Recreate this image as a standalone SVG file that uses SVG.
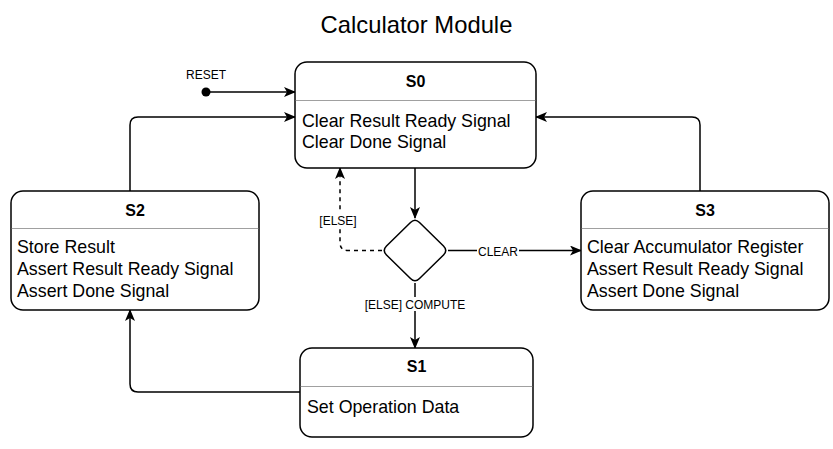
<svg xmlns="http://www.w3.org/2000/svg" width="833" height="449" viewBox="0 0 833 449">
<style>
.box{fill:#fff;stroke:#000;stroke-width:1.5}
.div{stroke:#a0a0a0;stroke-width:1}
.t{font-family:"Liberation Sans",Arial,Helvetica,sans-serif;fill:#000}
.title{font-size:16px;font-weight:bold;text-anchor:middle}
.body{font-size:17.8px}
.lbl{font-size:12px;text-anchor:middle}
.lb{fill:#fff}
.c{fill:none;stroke:#000;stroke-width:1.5}
</style>
<defs>
<marker id="arr" markerUnits="userSpaceOnUse" viewBox="0 0 12 10" refX="11" refY="5" markerWidth="12" markerHeight="10" orient="auto">
<path d="M0,0 L12,5 L0,10 L3,5 Z" fill="#000"/>
</marker>
</defs>
<rect width="833" height="449" fill="#fff"/>
<text class="t" x="416.5" y="33" font-size="23.8" text-anchor="middle">Calculator Module</text>

<g id="connectors">
<circle cx="206" cy="92" r="4.5" fill="#000"/>
<path class="c" d="M206,92 L295,92" marker-end="url(#arr)"/>
<path class="c" d="M130,191 L130,125 Q130,117 138,117 L295,117" marker-end="url(#arr)"/>
<path class="c" d="M700,191 L700,125 Q700,117 692,117 L536,117" marker-end="url(#arr)"/>
<path class="c" d="M415,168 L415,218" marker-end="url(#arr)"/>
<path class="c" d="M382,250.5 L348,250.5 Q340,250.5 340,242.5 L340,168" stroke-dasharray="4 4" marker-end="url(#arr)"/>
<path class="c" d="M448,250.5 L581,250.5" marker-end="url(#arr)"/>
<path class="c" d="M415,283 L415,348" marker-end="url(#arr)"/>
<path class="c" d="M300,392 L138,392 Q130,392 130,384 L130,310" marker-end="url(#arr)"/>
<text class="t lbl" x="206" y="79">RESET</text>
<rect class="lb" x="316" y="213" width="46" height="14"/>
<text class="t lbl" x="338" y="225">[ELSE]</text>
<rect class="lb" x="477" y="244" width="42" height="14"/>
<text class="t lbl" x="498" y="255.5">CLEAR</text>
<rect class="lb" x="365" y="297" width="100" height="14"/>
<text class="t lbl" x="415" y="308.5">[ELSE] COMPUTE</text>
</g>

<g id="S0">
<rect class="box" x="295" y="62" width="241" height="106" rx="12"/>
<line class="div" x1="295.75" y1="100.5" x2="535.25" y2="100.5"/>
<text class="t title" x="415.5" y="87">S0</text>
<text class="t body" x="302" y="127">Clear Result Ready Signal</text>
<text class="t body" x="302" y="148">Clear Done Signal</text>
</g>

<g id="S2">
<rect class="box" x="11" y="191" width="248" height="119" rx="12"/>
<line class="div" x1="11.75" y1="228.5" x2="258.25" y2="228.5"/>
<text class="t title" x="135" y="216">S2</text>
<text class="t body" x="17" y="253">Store Result</text>
<text class="t body" x="17" y="275">Assert Result Ready Signal</text>
<text class="t body" x="17" y="297">Assert Done Signal</text>
</g>

<g id="S3">
<rect class="box" x="581" y="191" width="248" height="119" rx="12"/>
<line class="div" x1="581.75" y1="228.5" x2="828.25" y2="228.5"/>
<text class="t title" x="705" y="216">S3</text>
<text class="t body" x="587" y="253">Clear Accumulator Register</text>
<text class="t body" x="587" y="275">Assert Result Ready Signal</text>
<text class="t body" x="587" y="297">Assert Done Signal</text>
</g>

<g id="S1">
<rect class="box" x="300" y="348" width="233" height="89" rx="12"/>
<line class="div" x1="300.75" y1="386.5" x2="532.25" y2="386.5"/>
<text class="t title" x="416.5" y="372">S1</text>
<text class="t body" x="307" y="413">Set Operation Data</text>
</g>

<g id="decision">
<path class="box" d="M410.5,222.5 Q415,218 419.5,222.5 L443.5,246 Q448,250.5 443.5,255 L419.5,278.5 Q415,283 410.5,278.5 L386.5,255 Q382,250.5 386.5,246 Z"/>
</g>
</svg>
